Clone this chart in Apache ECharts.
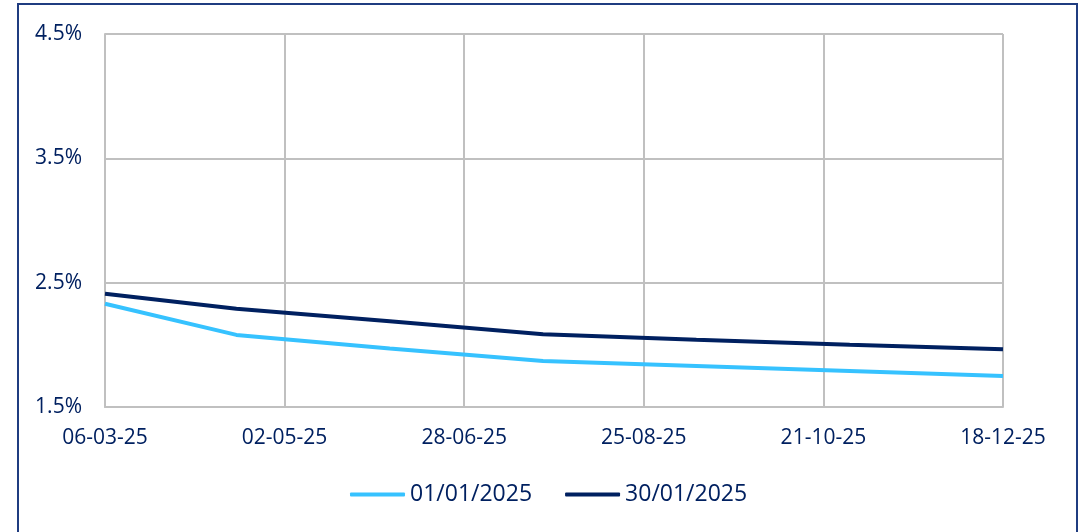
<!DOCTYPE html>
<html>
<head>
<meta charset="utf-8">
<script src="https://cdn.jsdelivr.net/npm/echarts@6/dist/echarts.min.js"></script>
<style>
  body { margin: 0; background: #fff; }
  #chart { width: 1084px; height: 532px; }
</style>
</head>
<body>
<div id="chart"></div>
<script>
// ECB meeting dates used as curve points
const meetingDates = ['2025-03-06', '2025-04-17', '2025-06-05', '2025-07-24', '2025-09-11', '2025-10-30', '2025-12-18'];
const seriesNames = ['01/01/2025', '30/01/2025'];
const rates0101 = [2.33, 2.08, 1.97, 1.87, 1.83, 1.79, 1.75];   // %
const rates3001 = [2.41, 2.29, 2.19, 2.085, 2.04, 2.00, 1.965]; // %
const yTicks = [1.5, 2.5, 3.5, 4.5];

const DAY = 86400000;
const startDate = Date.UTC(2025, 2, 6);   // 06-03-25
const endDate = Date.UTC(2025, 11, 18);   // 18-12-25
const span = (endDate - startDate) / DAY; // 287 days, 5 equal steps
const yBase = yTicks[0];

// x = days since the first date, y = rate above the bottom tick
function toPoint(d, v) {
    const p = d.split('-');
    const t = Date.UTC(+p[0], +p[1] - 1, +p[2]);
    return [(t - startDate) / DAY, v - yBase];
}

function fmtDay(off) {
    const dt = new Date(startDate + Math.floor(off + 1e-6) * DAY);
    const dd = String(dt.getUTCDate()).padStart(2, '0');
    const mm = String(dt.getUTCMonth() + 1).padStart(2, '0');
    const yy = String(dt.getUTCFullYear()).slice(2);
    return dd + '-' + mm + '-' + yy;
}

const navy = '#002060';
const gridGrey = '#c0c0c0';
const font = 'Open Sans';

const chart = echarts.init(document.getElementById('chart'));
chart.setOption({
    animation: false,
    textStyle: { fontFamily: font },
    graphic: [{
        type: 'rect',
        shape: { x: 18, y: 4, width: 1059, height: 600 },
        style: { fill: 'none', stroke: '#1f3c80', lineWidth: 2 },
        silent: true
    }],
    grid: { left: 105, right: 81, top: 34, bottom: 125 },
    xAxis: {
        type: 'value',
        min: 0,
        max: span,
        interval: span / 5,
        axisLine: { show: true, lineStyle: { color: gridGrey, width: 2 } },
        axisTick: { show: false },
        splitLine: { show: true, lineStyle: { color: gridGrey, width: 2 } },
        axisLabel: {
            color: navy, fontSize: 21, fontFamily: font, margin: 21,
            showMinLabel: true, showMaxLabel: true,
            formatter: v => fmtDay(v)
        }
    },
    yAxis: {
        type: 'value',
        min: 0,
        max: yTicks[yTicks.length - 1] - yBase,
        interval: 1,
        axisLine: { show: true, lineStyle: { color: gridGrey, width: 2 } },
        axisTick: { show: false },
        splitLine: { show: true, lineStyle: { color: gridGrey, width: 2 } },
        axisLabel: {
            color: navy, fontSize: 21, fontFamily: font, margin: 23,
            formatter: v => (v + yBase).toFixed(1) + '%'
        }
    },
    legend: {
        left: 345,
        top: 478,
        itemWidth: 55,
        itemHeight: 4,
        itemGap: 33,
        icon: 'roundRect',
        textStyle: { color: navy, fontSize: 23, fontFamily: font },
        data: seriesNames
    },
    series: [
        {
            name: seriesNames[0],
            type: 'line',
            showSymbol: false,
            symbol: 'none',
            color: '#36c2ff',
            lineStyle: { width: 4, color: '#36c2ff' },
            data: meetingDates.map((d, i) => toPoint(d, rates0101[i]))
        },
        {
            name: seriesNames[1],
            type: 'line',
            showSymbol: false,
            symbol: 'none',
            color: navy,
            lineStyle: { width: 4, color: navy },
            data: meetingDates.map((d, i) => toPoint(d, rates3001[i]))
        }
    ]
});
</script>
</body>
</html>
